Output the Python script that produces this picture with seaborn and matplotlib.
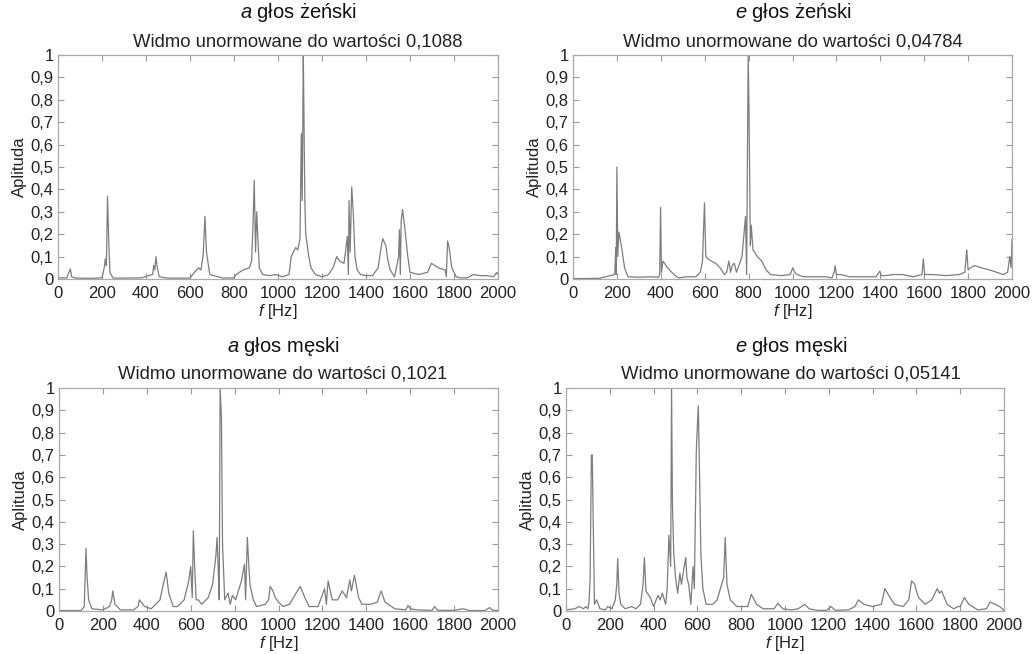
import matplotlib
matplotlib.use("Agg")
import matplotlib.pyplot as plt
import seaborn as sns
from matplotlib.ticker import FuncFormatter

# a, female voice (normalised to 0,1088)
a_f_freq = [0, 40, 50, 56, 62, 80, 150, 200, 210, 215, 220, 225, 230, 236, 250, 300, 380, 410,
            430, 435, 440, 445, 450, 460, 500, 600, 620, 640, 650, 660, 668, 675, 690, 750, 800,
            810, 840, 870, 880, 886, 892, 898, 903, 915, 930, 960, 990, 1020, 1050, 1060, 1080,
            1090, 1100, 1106, 1110, 1115, 1118, 1122, 1126, 1140, 1150, 1170, 1200, 1230, 1250,
            1267, 1280, 1300, 1308, 1315, 1320, 1323, 1328, 1335, 1342, 1350, 1360, 1375, 1400,
            1430, 1455, 1470, 1476, 1490, 1500, 1510, 1530, 1540, 1548, 1552, 1556, 1560, 1566,
            1575, 1590, 1600, 1640, 1680, 1697, 1730, 1760, 1765, 1771, 1778, 1790, 1810, 1830,
            1860, 1889, 1920, 1950, 1980, 1995, 2000]
a_f_amp = [0.005, 0.005, 0.03, 0.045, 0.01, 0.004, 0.003, 0.005, 0.05, 0.09, 0.06, 0.37, 0.19,
           0.03, 0.004, 0.004, 0.005, 0.015, 0.02, 0.06, 0.04, 0.10, 0.06, 0.01, 0.004, 0.004,
           0.03, 0.05, 0.04, 0.11, 0.28, 0.12, 0.02, 0.004, 0.005, 0.02, 0.04, 0.05, 0.08, 0.23,
           0.44, 0.12, 0.30, 0.05, 0.02, 0.015, 0.02, 0.01, 0.02, 0.1, 0.14, 0.13, 0.18, 0.65,
           0.35, 1.0, 0.73, 0.35, 0.2, 0.1, 0.05, 0.02, 0.01, 0.02, 0.05, 0.1, 0.08, 0.07, 0.13,
           0.19, 0.02, 0.35, 0.12, 0.41, 0.3, 0.1, 0.04, 0.02, 0.015, 0.015, 0.05, 0.15, 0.18,
           0.15, 0.08, 0.04, 0.01, 0.06, 0.1, 0.22, 0.02, 0.26, 0.31, 0.24, 0.1, 0.03, 0.02, 0.03,
           0.07, 0.05, 0.04, 0.01, 0.17, 0.14, 0.05, 0.01, 0.005, 0.005, 0.02, 0.015, 0.015,
           0.01, 0.03, 0.02]

# e, female voice (normalised to 0,04784)
e_f_freq = [0, 60, 120, 150, 190, 195, 197, 200, 204, 209, 220, 235, 250, 300, 350, 390, 395,
            399, 403, 410, 430, 460, 480, 520, 560, 580, 590, 599, 605, 615, 630, 650, 670, 690,
            700, 710, 718, 725, 735, 745, 770, 786, 791, 798, 802, 808, 812, 820, 840, 860, 880,
            900, 950, 990, 1001, 1010, 1020, 1050, 1100, 1150, 1180, 1190, 1194, 1200, 1220,
            1260, 1320, 1380, 1398, 1405, 1420, 1460, 1500, 1550, 1590, 1596, 1602, 1610, 1640,
            1700, 1760, 1785, 1794, 1800, 1810, 1830, 1860, 1900, 1930, 1960, 1980, 1990, 1996,
            2000]
e_f_amp = [0.002, 0.002, 0.003, 0.01, 0.02, 0.14, 0.02, 0.50, 0.1, 0.21, 0.15, 0.05, 0.01,
           0.008, 0.01, 0.008, 0.02, 0.32, 0.03, 0.08, 0.05, 0.02, 0.005, 0.01, 0.01, 0.03, 0.08,
           0.34, 0.1, 0.09, 0.08, 0.07, 0.05, 0.02, 0.03, 0.08, 0.03, 0.06, 0.07, 0.03, 0.1, 0.28,
           0.02, 1.0, 0.74, 0.15, 0.24, 0.13, 0.1, 0.08, 0.04, 0.02, 0.015, 0.02, 0.05, 0.03,
           0.02, 0.01, 0.01, 0.01, 0.005, 0.03, 0.06, 0.02, 0.02, 0.01, 0.01, 0.01, 0.035, 0.015,
           0.015, 0.02, 0.02, 0.01, 0.02, 0.09, 0.02, 0.02, 0.02, 0.015, 0.02, 0.03, 0.13, 0.04,
           0.05, 0.06, 0.05, 0.04, 0.03, 0.02, 0.03, 0.1, 0.05, 0.18]

# a, male voice (normalised to 0,1021)
a_m_freq = [0, 100, 115, 123, 128, 135, 150, 200, 230, 240, 245, 255, 280, 340, 360, 366, 375,
            390, 420, 460, 475, 488, 495, 500, 520, 540, 570, 590, 600, 607, 612, 618, 625, 635,
            650, 680, 700, 715, 720, 725, 730, 734, 740, 745, 755, 770, 780, 790, 805, 820, 830,
            845, 850, 858, 865, 870, 885, 900, 940, 955, 962, 975, 985, 1000, 1020, 1050, 1080,
            1099, 1120, 1140, 1180, 1210, 1218, 1226, 1245, 1270, 1290, 1310, 1325, 1332, 1346,
            1365, 1380, 1420, 1450, 1468, 1485, 1500, 1530, 1580, 1590, 1600, 1630, 1700, 1711,
            1725, 1800, 1840, 1870, 1940, 1962, 1975, 2000]
a_m_amp = [0.002, 0.002, 0.02, 0.28, 0.15, 0.05, 0.01, 0.005, 0.02, 0.05, 0.09, 0.03, 0.005,
           0.005, 0.02, 0.05, 0.04, 0.02, 0.01, 0.05, 0.12, 0.175, 0.12, 0.08, 0.02, 0.02, 0.05,
           0.13, 0.2, 0.06, 0.36, 0.2, 0.05, 0.05, 0.03, 0.06, 0.12, 0.25, 0.33, 0.2, 0.05, 1.0,
           0.87, 0.3, 0.05, 0.08, 0.03, 0.07, 0.05, 0.1, 0.13, 0.21, 0.05, 0.33, 0.2, 0.12, 0.05,
           0.02, 0.03, 0.05, 0.11, 0.09, 0.06, 0.04, 0.02, 0.03, 0.08, 0.11, 0.06, 0.02, 0.02,
           0.1, 0.03, 0.135, 0.05, 0.05, 0.09, 0.06, 0.14, 0.09, 0.16, 0.06, 0.03, 0.03, 0.04,
           0.09, 0.04, 0.03, 0.01, 0.005, 0.025, 0.01, 0.005, 0.003, 0.02, 0.003, 0.003, 0.01,
           0.002, 0.002, 0.015, 0.004, 0.002]

# e, male voice (normalised to 0,05141)
e_m_freq = [0, 40, 60, 80, 90, 100, 105, 110, 116, 120, 124, 130, 140, 155, 180, 190, 210,
            225, 232, 236, 242, 250, 270, 300, 320, 340, 352, 358, 365, 385, 400, 420, 430, 440,
            455, 462, 470, 478, 482, 486, 492, 500, 510, 520, 527, 540, 547, 552, 560, 570, 580,
            586, 595, 604, 610, 616, 625, 640, 670, 690, 705, 720, 727, 735, 750, 780, 830, 846,
            870, 900, 950, 968, 990, 1030, 1060, 1090, 1110, 1150, 1190, 1210, 1230, 1290, 1320,
            1335, 1360, 1400, 1440, 1456, 1480, 1500, 1540, 1565, 1578, 1592, 1600, 1610, 1640,
            1670, 1695, 1705, 1715, 1740, 1770, 1790, 1800, 1819, 1840, 1880, 1920, 1936, 1960,
            1980, 2000]
e_m_amp = [0.005, 0.01, 0.02, 0.01, 0.02, 0.01, 0.04, 0.14, 0.7, 0.7, 0.42, 0.03, 0.05, 0.01,
           0.005, 0.02, 0.01, 0.05, 0.12, 0.235, 0.08, 0.03, 0.01, 0.02, 0.01, 0.03, 0.12, 0.24,
           0.09, 0.06, 0.02, 0.07, 0.05, 0.08, 0.03, 0.1, 0.34, 0.2, 1.0, 0.48, 0.26, 0.15, 0.08,
           0.17, 0.12, 0.2, 0.24, 0.15, 0.12, 0.03, 0.2, 0.1, 0.72, 0.92, 0.6, 0.25, 0.1, 0.03,
           0.03, 0.05, 0.1, 0.15, 0.33, 0.12, 0.05, 0.02, 0.02, 0.075, 0.03, 0.01, 0.01, 0.035,
           0.01, 0.005, 0.01, 0.03, 0.01, 0.003, 0.003, 0.02, 0.003, 0.005, 0.02, 0.05, 0.03,
           0.02, 0.03, 0.1, 0.06, 0.03, 0.02, 0.05, 0.135, 0.12, 0.09, 0.06, 0.03, 0.05, 0.1,
           0.08, 0.09, 0.03, 0.01, 0.02, 0.02, 0.06, 0.03, 0.005, 0.01, 0.04, 0.03, 0.02, 0.003]

vowels = ["a", "e", "a", "e"]
voices = ["głos żeński", "głos żeński", "głos męski", "głos męski"]
norm_values = ["0,1088", "0,04784", "0,1021", "0,05141"]
x_ticks = [0, 200, 400, 600, 800, 1000, 1200, 1400, 1600, 1800, 2000]
y_ticks = [0, 0.1, 0.2, 0.3, 0.4, 0.5, 0.6, 0.7, 0.8, 0.9, 1]

sns.set_theme(style="ticks")
plt.rcParams["font.family"] = ["Liberation Sans", "DejaVu Sans"]
plt.rcParams["mathtext.fontset"] = "custom"
plt.rcParams["mathtext.it"] = "Liberation Sans:italic"
plt.rcParams["mathtext.rm"] = "Liberation Sans"

fig = plt.figure(figsize=(10.36, 6.54), dpi=100)
W, H = 1036, 654

# pixel boxes: left, right, top, bottom ; title centre x, title y, subtitle y
boxes = [
    (58, 498, 55, 279, 298, 13, 42),
    (573, 1012, 55, 279, 793, 13, 42),
    (59, 498, 388, 611, 283, 347, 374),
    (566, 1004, 388, 611, 791, 347, 374),
]
series = [(a_f_freq, a_f_amp), (e_f_freq, e_f_amp), (a_m_freq, a_m_amp), (e_m_freq, e_m_amp)]

comma = FuncFormatter(lambda v, p: f"{v:g}".replace(".", ","))

for i, (l, r, t, b, tx, ty, sy) in enumerate(boxes):
    ax = fig.add_axes([l / W, 1 - b / H, (r - l) / W, (b - t) / H])
    freq, amp = series[i]
    sns.lineplot(x=freq, y=amp, ax=ax, color="#7d7d7d", linewidth=0.9,
                 estimator=None, sort=False)
    ax.set_xlim(0, 2000)
    ax.set_ylim(0, 1)
    ax.set_xticks(x_ticks)
    ax.set_yticks(y_ticks)
    ax.yaxis.set_major_formatter(comma)
    ax.tick_params(direction="in", top=True, right=True, length=4, width=0.8,
                   color="#999999", labelsize=12, labelcolor="#222222")
    ax.tick_params(axis="x", pad=5)
    ax.tick_params(axis="y", pad=3)
    for s in ax.spines.values():
        s.set_color("#aaaaaa")
        s.set_linewidth(0.9)
    ax.set_xlabel(r"$\mathit{f}$ [Hz]", fontsize=12, color="#222222", labelpad=1)
    ax.set_ylabel("Aplituda", fontsize=12, color="#222222", labelpad=3)
    fig.text(tx / W, 1 - ty / H, rf"$\mathit{{{vowels[i]}}}$ {voices[i]}",
             ha="center", va="center", fontsize=14.5, color="#111111")
    fig.text(tx / W, 1 - sy / H, f"Widmo unormowane do wartości {norm_values[i]}",
             ha="center", va="center", fontsize=13.3, color="#222222")

fig.savefig("out.png", dpi=100)
